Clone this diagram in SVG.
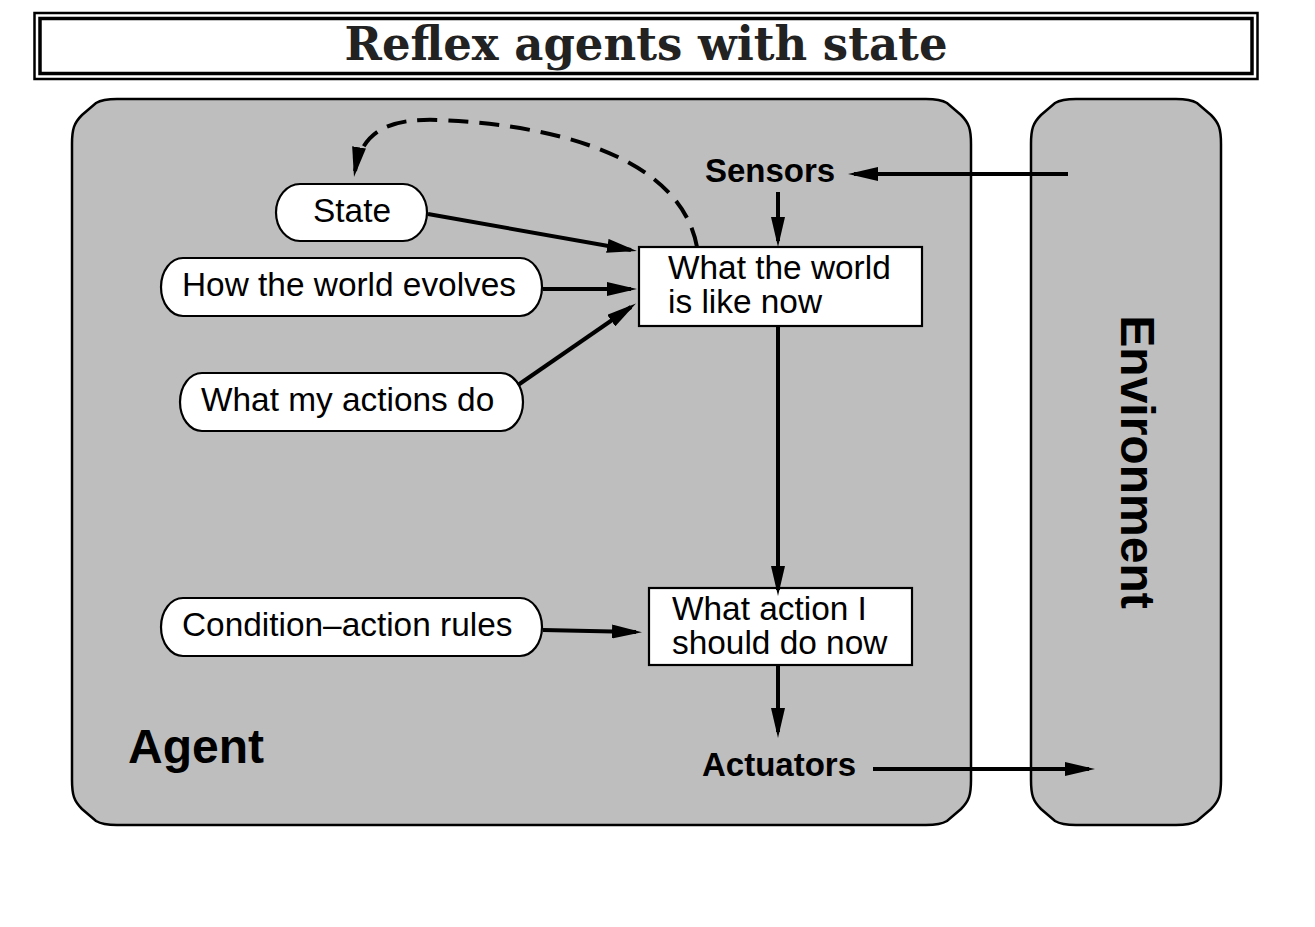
<svg xmlns="http://www.w3.org/2000/svg" width="1315" height="927" viewBox="0 0 1315 927">
<style>
.container{fill:#bebebe;stroke:#000;stroke-width:2.5}
.pill{fill:#fff;stroke:#000;stroke-width:2.2}
.box{fill:#fff;stroke:#000;stroke-width:2.2}
.t{font-family:"Liberation Sans",Arial,sans-serif;font-size:33.4px;fill:#000}
.b{font-family:"Liberation Sans",Arial,sans-serif;font-weight:bold;fill:#000}
.title{font-family:"DejaVu Serif","Liberation Serif",serif;font-size:46px;font-weight:bold;fill:#222}
.arr{fill:none;stroke:#000;stroke-width:4;marker-end:url(#ah)}
.dash{fill:none;stroke:#000;stroke-width:4;stroke-dasharray:20 11;marker-end:url(#ah)}
</style>
<defs>
<marker id="ah" markerUnits="userSpaceOnUse" viewBox="0 0 30 14" refX="24" refY="7" markerWidth="30" markerHeight="14" orient="auto">
<path d="M0,0 L30,7 L0,14 z" fill="#000"/>
</marker>
</defs>
<rect width="1315" height="927" fill="#fff"/>
<g id="title">
<rect x="34.5" y="13" width="1223" height="66" fill="none" stroke="#000" stroke-width="2.5"/>
<rect x="40" y="18.5" width="1212" height="55" fill="#fff" stroke="#000" stroke-width="3.5"/>
<text class="title" x="646" y="60" text-anchor="middle" textLength="603" lengthAdjust="spacingAndGlyphs">Reflex agents with state</text>
</g>
<g id="agent">
<path class="container" d="M72 144 C72 129 74 123 82 115 L96 103 C101 100 107 99 117 99 L926 99 C936 99 942 100 947 103 L961 115 C969 123 971 129 971 144 L971 780 C971 795 969 801 961 809 L947 821 C942 824 936 825 926 825 L117 825 C107 825 101 824 96 821 L82 809 C74 801 72 795 72 780 Z"/>
<text class="b" x="128" y="763" font-size="48">Agent</text>
</g>
<g id="environment">
<path class="container" d="M1031 144 C1031 129 1033 123 1041 115 L1055 103 C1060 100 1066 99 1076 99 L1176 99 C1186 99 1192 100 1197 103 L1211 115 C1219 123 1221 129 1221 144 L1221 780 C1221 795 1219 801 1211 809 L1197 821 C1192 824 1186 825 1176 825 L1076 825 C1066 825 1060 824 1055 821 L1041 809 C1033 801 1031 795 1031 780 Z"/>
<text class="b" font-size="48" text-anchor="middle" transform="translate(1121,462) rotate(90)">Environment</text>
</g>
<g id="sensors"><text class="b" x="705" y="182" font-size="33">Sensors</text></g>
<g id="actuators"><text class="b" x="702" y="776" font-size="33">Actuators</text></g>
<g id="state">
<rect class="pill" x="276" y="184" width="151" height="57" rx="24" ry="28.5"/>
<text class="t" x="352" y="222" text-anchor="middle">State</text>
</g>
<g id="how-world-evolves">
<rect class="pill" x="161" y="258" width="381" height="58" rx="22" ry="29"/>
<text class="t" x="182" y="296">How the world evolves</text>
</g>
<g id="what-actions-do">
<rect class="pill" x="180" y="373" width="343" height="58" rx="22" ry="29"/>
<text class="t" x="201" y="411">What my actions do</text>
</g>
<g id="condition-action-rules">
<rect class="pill" x="161" y="598" width="381" height="58" rx="22" ry="29"/>
<text class="t" x="182" y="636">Condition–action rules</text>
</g>
<g id="world-now">
<rect class="box" x="639" y="247" width="283" height="79"/>
<text class="t"><tspan x="668" y="279">What the world</tspan><tspan x="668" y="313">is like now</tspan></text>
</g>
<g id="action-now">
<rect class="box" x="649" y="588" width="263" height="77"/>
<text class="t"><tspan x="672" y="620">What action I</tspan><tspan x="672" y="654">should do now</tspan></text>
</g>
<g id="connectors">
<path class="arr" d="M1068 174 L854 174"/>
<path class="arr" d="M778 192 L778 241"/>
<path class="arr" d="M428 214 L631 250"/>
<path class="arr" d="M543 289 L631 289"/>
<path class="arr" d="M518 385 L631 307"/>
<path class="arr" d="M778 327 L778 590"/>
<path class="arr" d="M543 630 L636 632"/>
<path class="arr" d="M778 666 L778 732"/>
<path class="arr" d="M873 769 L1089 769"/>
<path class="dash" d="M697 247 C682 165 575 126 440 120 C390 118 362 130 355 171"/>
</g>
</svg>
